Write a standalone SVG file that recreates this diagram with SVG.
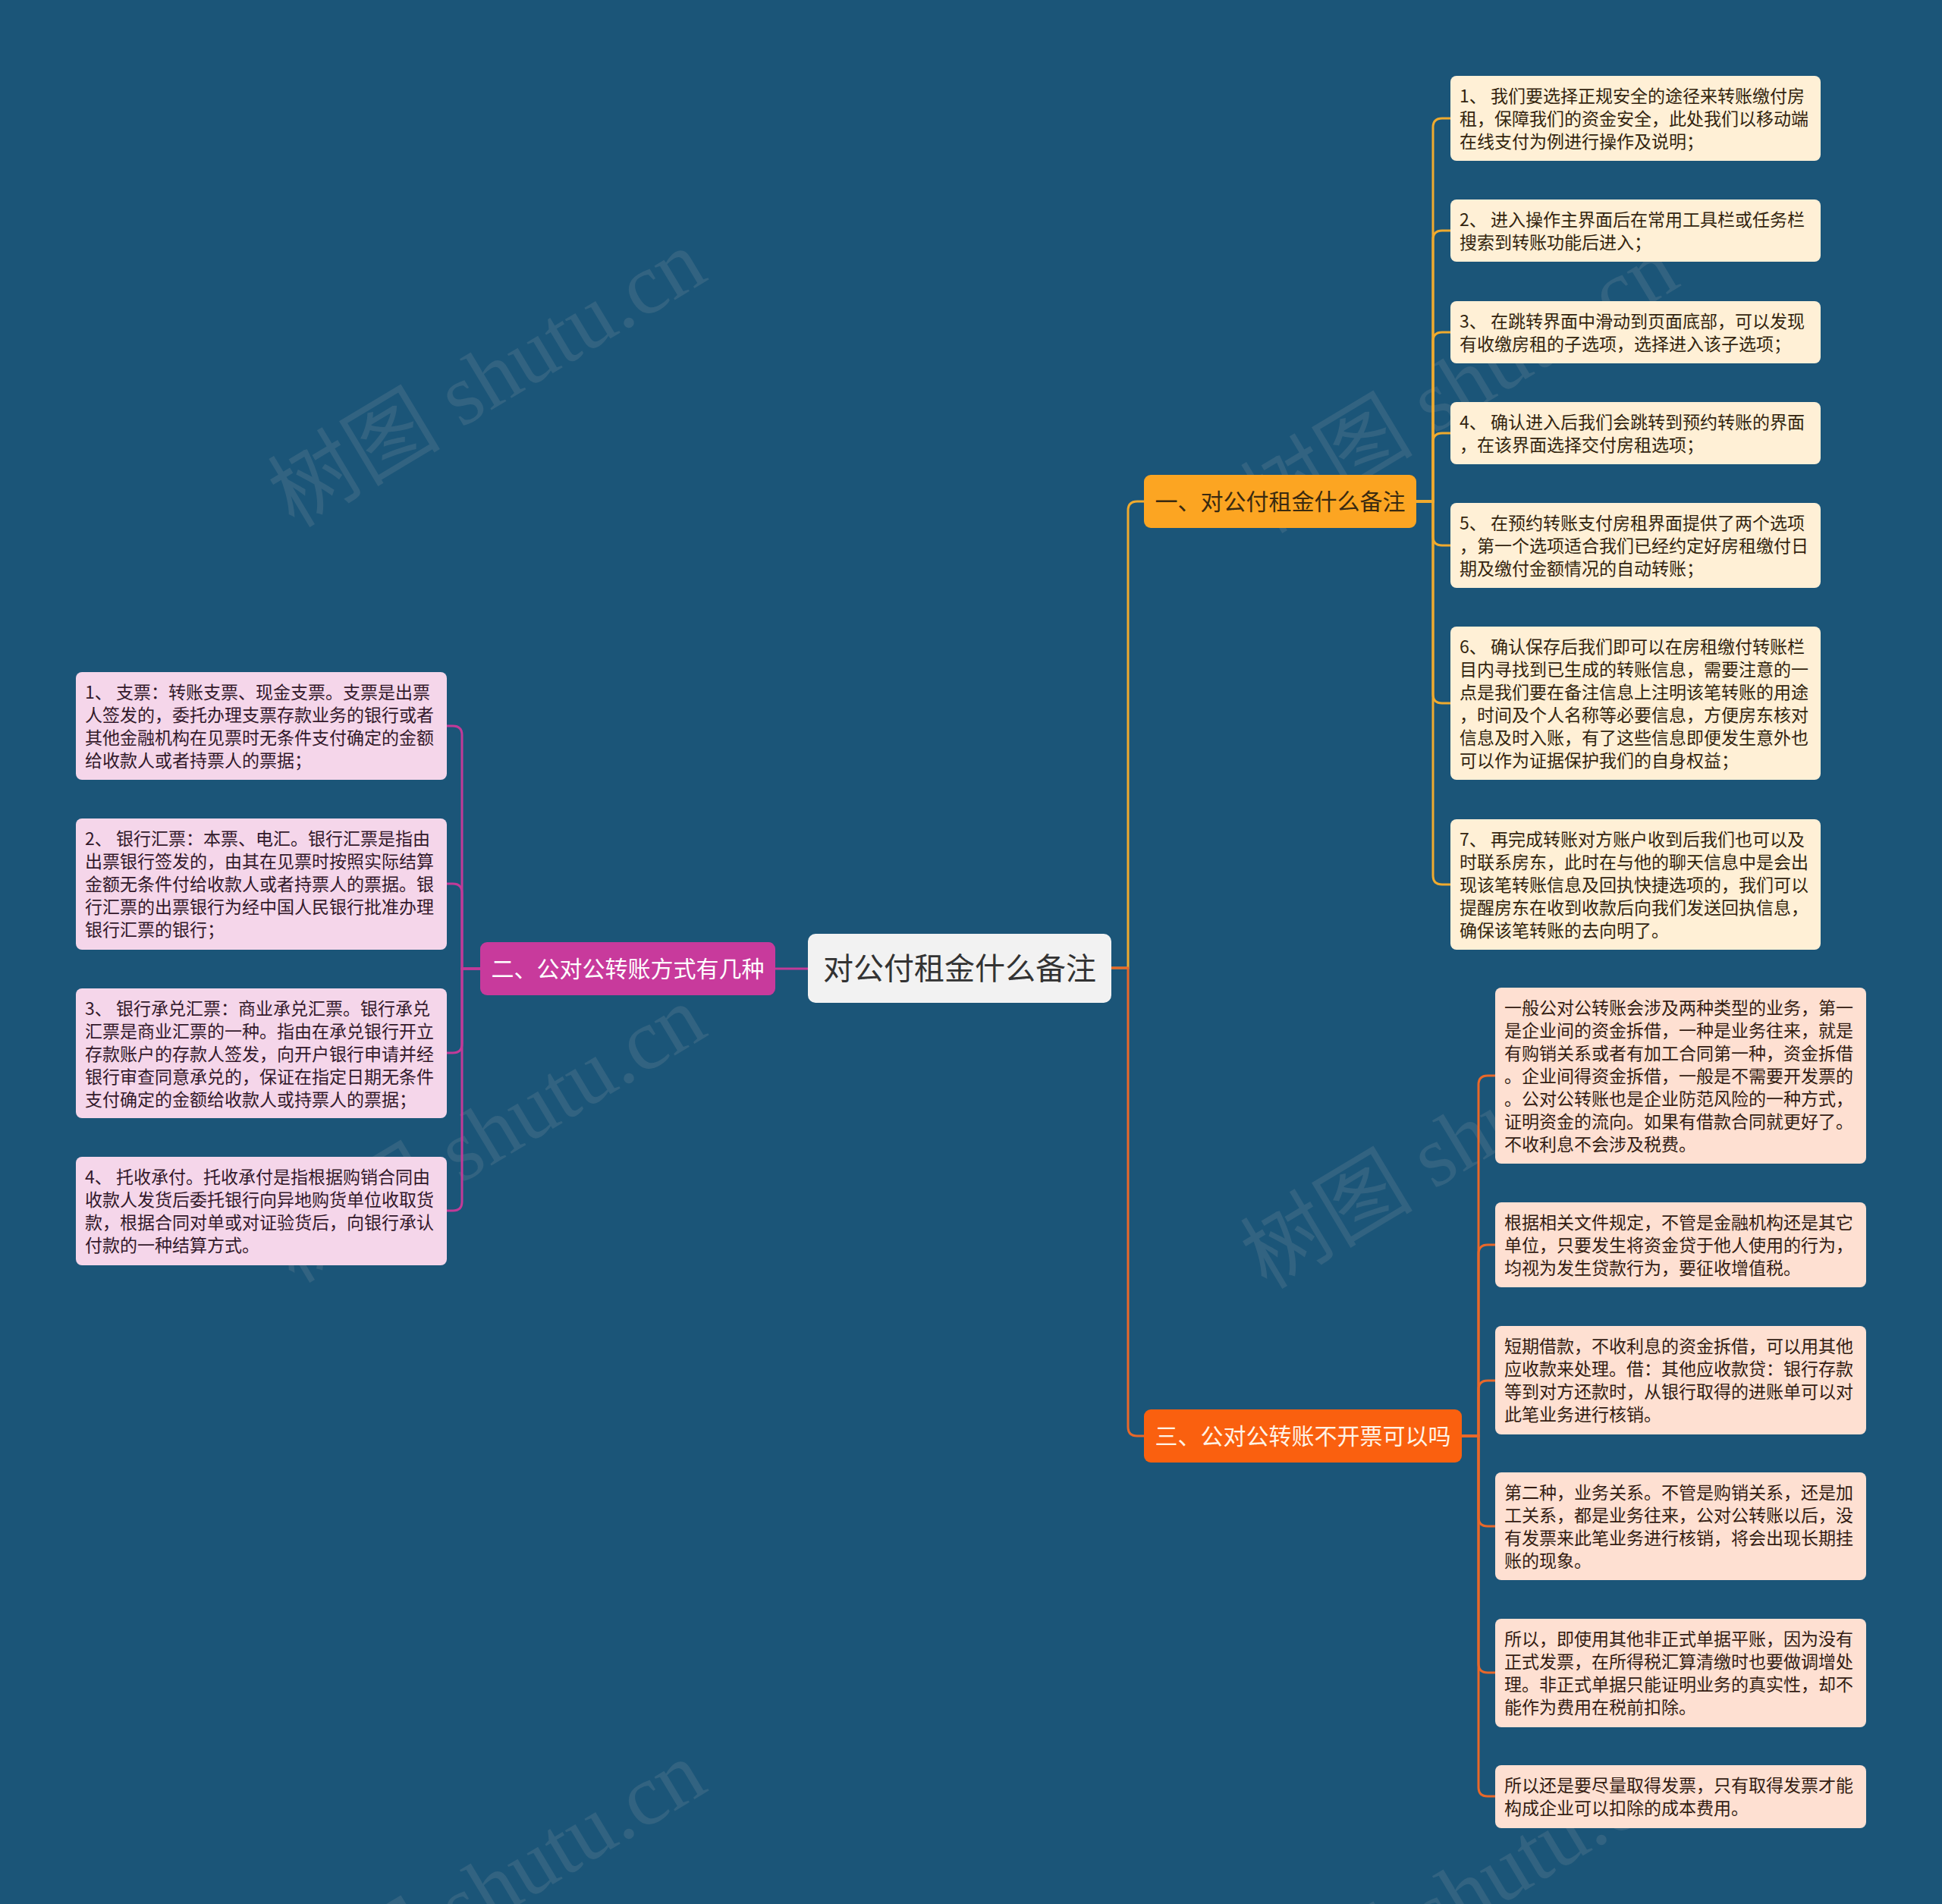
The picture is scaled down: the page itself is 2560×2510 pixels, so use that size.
<svg xmlns="http://www.w3.org/2000/svg" width="2560" height="2510" viewBox="0 0 2560 2510">
<style>
.bg{fill:#1B5578}
.wm{font-family:"Liberation Serif","Noto Sans CJK SC",serif;font-size:114px;fill:#b4b4b4;opacity:0.15}
.root rect{fill:#F2F2F2}
.root text{font-family:"Noto Sans CJK SC",sans-serif;font-size:40px;fill:#333;text-anchor:middle}
.br text{font-family:"Noto Sans CJK SC",sans-serif;font-size:30px;text-anchor:middle}
.lf text{font-family:"Noto Sans CJK SC",sans-serif;font-size:23px}
.b1 rect{fill:#FCA522}.b1 text{fill:#3a2a10}
.b2 rect{fill:#C83A9C}.b2 text{fill:#fff}
.b3 rect{fill:#FA600F}.b3 text{fill:#FFF3E6}
.l1 rect{fill:#FFF0D6}.l1 text{fill:#33240e}
.l2 rect{fill:#F5D6EA}.l2 text{fill:#33192b}
.l3 rect{fill:#FEE0D2}.l3 text{fill:#331c12}
.c{fill:none;stroke-width:3}
.c1{stroke:#EFAA2E}.c2{stroke:#C23A98}.c3{stroke:#E8682A}
</style>
<rect class="bg" x="0" y="0" width="2560" height="2510"/>

<g id="watermarks">
<text class="wm" transform="translate(662,532) rotate(-31)" text-anchor="middle">树图 shutu.cn</text>
<text class="wm" transform="translate(1944,540) rotate(-31)" text-anchor="middle">树图 shutu.cn</text>
<text class="wm" transform="translate(662,1528) rotate(-31)" text-anchor="middle">树图 shutu.cn</text>
<text class="wm" transform="translate(1944,1536) rotate(-31)" text-anchor="middle">树图 shutu.cn</text>
<text class="wm" transform="translate(662,2524) rotate(-31)" text-anchor="middle">树图 shutu.cn</text>
<text class="wm" transform="translate(1944,2532) rotate(-31)" text-anchor="middle">树图 shutu.cn</text>
</g>

<g id="connectors">
<path class="c c1" d="M1465,1276 H1487 V673 Q1487,661 1499,661 H1508"/>
<path class="c c3" d="M1465,1276 H1487 V1881 Q1487,1893 1499,1893 H1508"/>
<path class="c c2" d="M1065,1277 H1022"/>
<path class="c c1" d="M1867,661 H1889 V168 Q1889,156 1901,156 H1912"/>
<path class="c c1" d="M1867,661 H1889 V316 Q1889,304 1901,304 H1912"/>
<path class="c c1" d="M1867,661 H1889 V450 Q1889,438 1901,438 H1912"/>
<path class="c c1" d="M1867,661 H1889 V583 Q1889,571 1901,571 H1912"/>
<path class="c c1" d="M1867,661 H1889 V707 Q1889,719 1901,719 H1912"/>
<path class="c c1" d="M1867,661 H1889 V915 Q1889,927 1901,927 H1912"/>
<path class="c c1" d="M1867,661 H1889 V1154 Q1889,1166 1901,1166 H1912"/>
<path class="c c2" d="M633,1277 H609 V969 Q609,957 597,957 H589"/>
<path class="c c2" d="M633,1277 H609 V1177 Q609,1165 597,1165 H589"/>
<path class="c c2" d="M633,1277 H609 V1376 Q609,1388 597,1388 H589"/>
<path class="c c2" d="M633,1277 H609 V1584 Q609,1596 597,1596 H589"/>
<path class="c c3" d="M1927,1893 H1949 V1430 Q1949,1418 1961,1418 H1971"/>
<path class="c c3" d="M1927,1893 H1949 V1653 Q1949,1641 1961,1641 H1971"/>
<path class="c c3" d="M1927,1893 H1949 V1832 Q1949,1820 1961,1820 H1971"/>
<path class="c c3" d="M1927,1893 H1949 V2000 Q1949,2012 1961,2012 H1971"/>
<path class="c c3" d="M1927,1893 H1949 V2193 Q1949,2205 1961,2205 H1971"/>
<path class="c c3" d="M1927,1893 H1949 V2356 Q1949,2368 1961,2368 H1971"/>
</g>

<g id="root" class="root">
<rect x="1065" y="1231" width="400" height="91" rx="10"/>
<text x="1265" y="1291">对公付租金什么备注</text>
</g>

<g id="branch1" class="br b1">
<rect x="1508" y="626" width="359" height="70" rx="9"/>
<text x="1687.5" y="672">一、对公付租金什么备注</text>
</g>
<g id="branch2" class="br b2">
<rect x="633" y="1242" width="389" height="70" rx="9"/>
<text x="827.5" y="1288">二、公对公转账方式有几种</text>
</g>
<g id="branch3" class="br b3">
<rect x="1508" y="1858" width="419" height="70" rx="9"/>
<text x="1717.5" y="1904">三、公对公转账不开票可以吗</text>
</g>

<g id="b1-leaf1" class="lf l1">
<rect x="1912" y="100" width="488" height="112" rx="8"/>
<text x="1924" y="135"><tspan x="1924">1、 我们要选择正规安全的途径来转账缴付房</tspan><tspan x="1924" dy="30">租，保障我们的资金安全，此处我们以移动端</tspan><tspan x="1924" dy="30">在线支付为例进行操作及说明；</tspan></text>
</g>
<g id="b1-leaf2" class="lf l1">
<rect x="1912" y="263" width="488" height="82" rx="8"/>
<text x="1924" y="298"><tspan x="1924">2、 进入操作主界面后在常用工具栏或任务栏</tspan><tspan x="1924" dy="30">搜索到转账功能后进入；</tspan></text>
</g>
<g id="b1-leaf3" class="lf l1">
<rect x="1912" y="397" width="488" height="82" rx="8"/>
<text x="1924" y="432"><tspan x="1924">3、 在跳转界面中滑动到页面底部，可以发现</tspan><tspan x="1924" dy="30">有收缴房租的子选项，选择进入该子选项；</tspan></text>
</g>
<g id="b1-leaf4" class="lf l1">
<rect x="1912" y="530" width="488" height="82" rx="8"/>
<text x="1924" y="565"><tspan x="1924">4、 确认进入后我们会跳转到预约转账的界面</tspan><tspan x="1924" dy="30">，在该界面选择交付房租选项；</tspan></text>
</g>
<g id="b1-leaf5" class="lf l1">
<rect x="1912" y="663" width="488" height="112" rx="8"/>
<text x="1924" y="698"><tspan x="1924">5、 在预约转账支付房租界面提供了两个选项</tspan><tspan x="1924" dy="30">，第一个选项适合我们已经约定好房租缴付日</tspan><tspan x="1924" dy="30">期及缴付金额情况的自动转账；</tspan></text>
</g>
<g id="b1-leaf6" class="lf l1">
<rect x="1912" y="826" width="488" height="202" rx="8"/>
<text x="1924" y="861"><tspan x="1924">6、 确认保存后我们即可以在房租缴付转账栏</tspan><tspan x="1924" dy="30">目内寻找到已生成的转账信息，需要注意的一</tspan><tspan x="1924" dy="30">点是我们要在备注信息上注明该笔转账的用途</tspan><tspan x="1924" dy="30">，时间及个人名称等必要信息，方便房东核对</tspan><tspan x="1924" dy="30">信息及时入账，有了这些信息即便发生意外也</tspan><tspan x="1924" dy="30">可以作为证据保护我们的自身权益；</tspan></text>
</g>
<g id="b1-leaf7" class="lf l1">
<rect x="1912" y="1080" width="488" height="172" rx="8"/>
<text x="1924" y="1115"><tspan x="1924">7、 再完成转账对方账户收到后我们也可以及</tspan><tspan x="1924" dy="30">时联系房东，此时在与他的聊天信息中是会出</tspan><tspan x="1924" dy="30">现该笔转账信息及回执快捷选项的，我们可以</tspan><tspan x="1924" dy="30">提醒房东在收到收款后向我们发送回执信息，</tspan><tspan x="1924" dy="30">确保该笔转账的去向明了。</tspan></text>
</g>

<g id="b2-leaf1" class="lf l2">
<rect x="100" y="886" width="489" height="142" rx="8"/>
<text x="112" y="921"><tspan x="112">1、 支票：转账支票、现金支票。支票是出票</tspan><tspan x="112" dy="30">人签发的，委托办理支票存款业务的银行或者</tspan><tspan x="112" dy="30">其他金融机构在见票时无条件支付确定的金额</tspan><tspan x="112" dy="30">给收款人或者持票人的票据；</tspan></text>
</g>
<g id="b2-leaf2" class="lf l2">
<rect x="100" y="1079" width="489" height="173" rx="8"/>
<text x="112" y="1114"><tspan x="112">2、 银行汇票：本票、电汇。银行汇票是指由</tspan><tspan x="112" dy="30">出票银行签发的，由其在见票时按照实际结算</tspan><tspan x="112" dy="30">金额无条件付给收款人或者持票人的票据。银</tspan><tspan x="112" dy="30">行汇票的出票银行为经中国人民银行批准办理</tspan><tspan x="112" dy="30">银行汇票的银行；</tspan></text>
</g>
<g id="b2-leaf3" class="lf l2">
<rect x="100" y="1303" width="489" height="171" rx="8"/>
<text x="112" y="1338"><tspan x="112">3、 银行承兑汇票：商业承兑汇票。银行承兑</tspan><tspan x="112" dy="30">汇票是商业汇票的一种。指由在承兑银行开立</tspan><tspan x="112" dy="30">存款账户的存款人签发，向开户银行申请并经</tspan><tspan x="112" dy="30">银行审查同意承兑的，保证在指定日期无条件</tspan><tspan x="112" dy="30">支付确定的金额给收款人或持票人的票据；</tspan></text>
</g>
<g id="b2-leaf4" class="lf l2">
<rect x="100" y="1525" width="489" height="143" rx="8"/>
<text x="112" y="1560"><tspan x="112">4、 托收承付。托收承付是指根据购销合同由</tspan><tspan x="112" dy="30">收款人发货后委托银行向异地购货单位收取货</tspan><tspan x="112" dy="30">款，根据合同对单或对证验货后，向银行承认</tspan><tspan x="112" dy="30">付款的一种结算方式。</tspan></text>
</g>

<g id="b3-leaf1" class="lf l3">
<rect x="1971" y="1302" width="489" height="232" rx="8"/>
<text x="1983" y="1337"><tspan x="1983">一般公对公转账会涉及两种类型的业务，第一</tspan><tspan x="1983" dy="30">是企业间的资金拆借，一种是业务往来，就是</tspan><tspan x="1983" dy="30">有购销关系或者有加工合同第一种，资金拆借</tspan><tspan x="1983" dy="30">。企业间得资金拆借，一般是不需要开发票的</tspan><tspan x="1983" dy="30">。公对公转账也是企业防范风险的一种方式，</tspan><tspan x="1983" dy="30">证明资金的流向。如果有借款合同就更好了。</tspan><tspan x="1983" dy="30">不收利息不会涉及税费。</tspan></text>
</g>
<g id="b3-leaf2" class="lf l3">
<rect x="1971" y="1585" width="489" height="112" rx="8"/>
<text x="1983" y="1620"><tspan x="1983">根据相关文件规定，不管是金融机构还是其它</tspan><tspan x="1983" dy="30">单位，只要发生将资金贷于他人使用的行为，</tspan><tspan x="1983" dy="30">均视为发生贷款行为，要征收增值税。</tspan></text>
</g>
<g id="b3-leaf3" class="lf l3">
<rect x="1971" y="1748" width="489" height="143" rx="8"/>
<text x="1983" y="1783"><tspan x="1983">短期借款，不收利息的资金拆借，可以用其他</tspan><tspan x="1983" dy="30">应收款来处理。借：其他应收款贷：银行存款</tspan><tspan x="1983" dy="30">等到对方还款时，从银行取得的进账单可以对</tspan><tspan x="1983" dy="30">此笔业务进行核销。</tspan></text>
</g>
<g id="b3-leaf4" class="lf l3">
<rect x="1971" y="1941" width="489" height="142" rx="8"/>
<text x="1983" y="1976"><tspan x="1983">第二种，业务关系。不管是购销关系，还是加</tspan><tspan x="1983" dy="30">工关系，都是业务往来，公对公转账以后，没</tspan><tspan x="1983" dy="30">有发票来此笔业务进行核销，将会出现长期挂</tspan><tspan x="1983" dy="30">账的现象。</tspan></text>
</g>
<g id="b3-leaf5" class="lf l3">
<rect x="1971" y="2134" width="489" height="143" rx="8"/>
<text x="1983" y="2169"><tspan x="1983">所以，即使用其他非正式单据平账，因为没有</tspan><tspan x="1983" dy="30">正式发票，在所得税汇算清缴时也要做调增处</tspan><tspan x="1983" dy="30">理。非正式单据只能证明业务的真实性，却不</tspan><tspan x="1983" dy="30">能作为费用在税前扣除。</tspan></text>
</g>
<g id="b3-leaf6" class="lf l3">
<rect x="1971" y="2327" width="489" height="83" rx="8"/>
<text x="1983" y="2362"><tspan x="1983">所以还是要尽量取得发票，只有取得发票才能</tspan><tspan x="1983" dy="30">构成企业可以扣除的成本费用。</tspan></text>
</g>
</svg>
